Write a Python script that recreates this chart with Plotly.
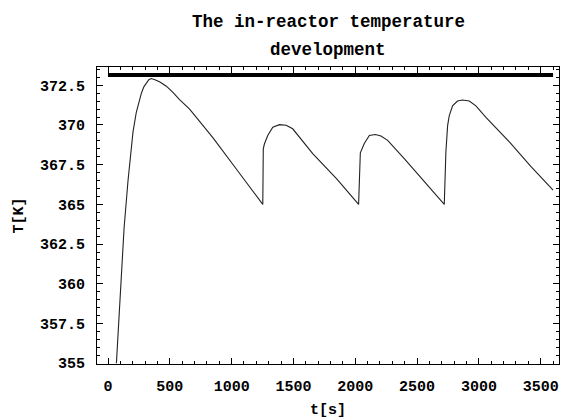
import plotly.graph_objects as go

# Temperature curve (t in s, T in K)
t_vals = [68, 76, 89, 108, 130, 162, 185, 202, 229, 250, 270, 290, 310, 330, 350,
          380, 420, 472, 525, 579, 660, 848, 1050, 1252,
          1256, 1265, 1292, 1333, 1387, 1441, 1494, 1656, 1850, 2027,
          2041, 2073, 2114, 2162, 2208, 2262, 2400, 2560, 2720,
          2733, 2747, 2760, 2787, 2827, 2868, 2922, 2976, 3057, 3250, 3420, 3600]
T_vals = [355.0, 356.2, 357.8, 360.9, 363.5, 366.5, 368.3, 369.55, 370.8, 371.5, 372.0, 372.4, 372.65, 372.85, 372.92,
          372.85, 372.7, 372.44, 372.05, 371.6, 371.0, 369.2, 367.1, 365.0,
          368.5, 368.8, 369.34, 369.86, 370.02, 369.98, 369.76, 368.2, 366.6, 365.0,
          368.25, 368.83, 369.34, 369.4, 369.3, 369.03, 367.85, 366.45, 365.0,
          368.3, 369.96, 370.58, 371.2, 371.51, 371.57, 371.51, 371.2, 370.48, 368.9, 367.4, 365.9]

# Boiling limit line
limit_t = [0, 3600]
limit_T = [373.15, 373.15]

x_ticks = [0, 500, 1000, 1500, 2000, 2500, 3000, 3500]
y_ticks = [355, 357.5, 360, 362.5, 365, 367.5, 370, 372.5]

title_lines = ["The in-reactor temperature", "development"]

FONT = "Liberation Mono, Courier New, monospace"

fig = go.Figure()
fig.add_trace(go.Scatter(x=limit_t, y=limit_T, mode="lines",
                         line=dict(color="black", width=4), showlegend=False))
fig.add_trace(go.Scatter(x=t_vals, y=T_vals, mode="lines",
                         line=dict(color="#222222", width=1.1), showlegend=False))

axis_common = dict(
    showline=True, linecolor="black", linewidth=1, mirror="ticks",
    ticks="inside", ticklen=6, tickcolor="black", tickwidth=1,
    showgrid=False, zeroline=False,
    tickfont=dict(family=FONT, size=15, color="black", weight="bold"),
)

title_font = dict(family=FONT, size=17.5, color="black", weight="bold")
annotations = [
    dict(text=title_lines[0], xref="paper", yref="paper", x=0.5, y=1.15,
         xanchor="center", yanchor="middle", showarrow=False, font=title_font),
    dict(text=title_lines[1], xref="paper", yref="paper", x=0.5, y=1.058,
         xanchor="center", yanchor="middle", showarrow=False, font=title_font),
]

fig.update_layout(
    width=562, height=419,
    margin=dict(l=97, r=2, t=67, b=50),
    paper_bgcolor="white", plot_bgcolor="white",
    annotations=annotations,
    xaxis=dict(range=[-89, 3648], tickvals=x_ticks,
               minor=dict(ticks="inside", ticklen=3, dtick=100, tick0=0, tickcolor="black", showgrid=False),
               title=dict(text="t[s]", font=dict(family=FONT, size=15, color="black", weight="bold"), standoff=10),
               ticklabelstandoff=8,
               **axis_common),
    yaxis=dict(range=[354.95, 373.65], tickvals=y_ticks,
               minor=dict(ticks="inside", ticklen=3, dtick=0.5, tick0=355, tickcolor="black", showgrid=False),
               title=dict(text="T[K]", font=dict(family=FONT, size=15, color="black", weight="bold"), standoff=12),
               ticklabelstandoff=8,
               **axis_common),
)

fig.write_html("out.html", config={"displayModeBar": False},
               post_script="document.body.style.margin='0';document.body.style.overflow='hidden';")
